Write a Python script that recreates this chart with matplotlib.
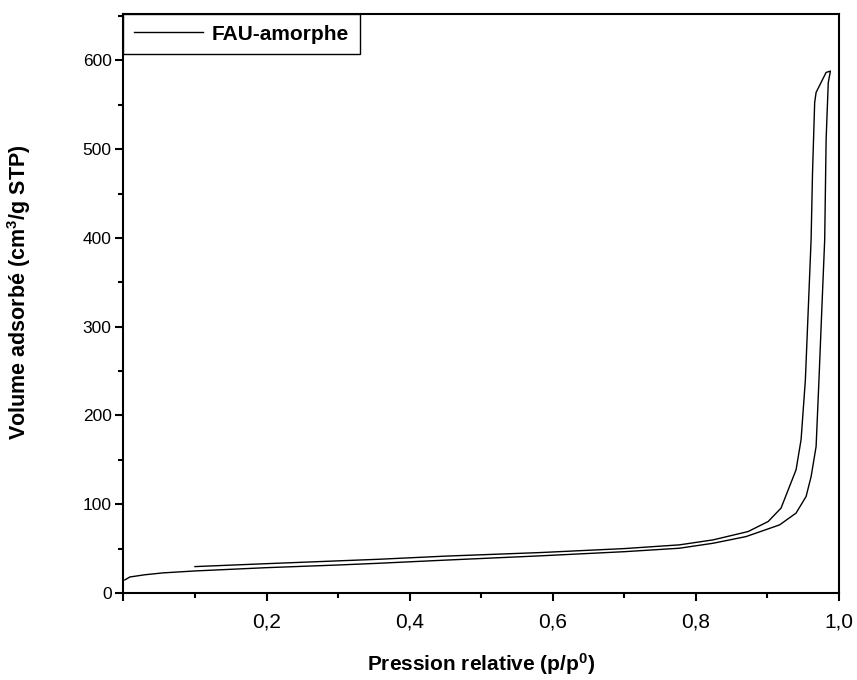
import numpy as np
import matplotlib
matplotlib.use("Agg")
import matplotlib.pyplot as plt
from matplotlib.ticker import MultipleLocator, FuncFormatter

plt.rcParams.update({
    "font.family": ["Liberation Sans", "DejaVu Sans"],
    "mathtext.fontset": "custom",
    "mathtext.rm": "Liberation Sans",
    "mathtext.bf": "Liberation Sans:bold",
    "mathtext.default": "bf",
})

# adsorption branch
p_ads = [0.002, 0.009, 0.03, 0.055, 0.1, 0.2, 0.3, 0.358, 0.45, 0.582, 0.7,
         0.777, 0.824, 0.87, 0.917, 0.94, 0.954, 0.961, 0.968, 0.972, 0.976,
         0.980, 0.982, 0.985, 0.988]
v_ads = [14.7, 18, 20.5, 22.6, 24.8, 28.5, 31.5, 33.5, 37, 41.8, 46.5,
         50.4, 56, 63.5, 76.7, 90, 108.7, 131, 165, 240, 320,
         398, 511, 575, 588]

# desorption branch
p_des = [0.988, 0.982, 0.968, 0.966, 0.963, 0.961, 0.953, 0.947, 0.940,
         0.919, 0.901, 0.873, 0.824, 0.777, 0.7, 0.582, 0.45, 0.358, 0.2, 0.1]
v_des = [588, 586.5, 564, 552.7, 473.7, 398, 240, 172.7, 138.8,
         95.6, 80.5, 69.2, 59.8, 54.2, 50, 45.5, 41.5, 38, 33, 29.7]

label = "FAU-amorphe"

fig = plt.figure(figsize=(8.57, 6.8), dpi=100)
ax = fig.add_axes([0.144, 0.128, 0.835, 0.851])

ax.plot(p_ads + p_des, v_ads + v_des, color="black", lw=1.0, label=label)

ax.set_xlim(0, 1.0)
ax.set_ylim(0, 652)
ax.xaxis.set_major_locator(MultipleLocator(0.2))
ax.xaxis.set_minor_locator(MultipleLocator(0.1))
ax.yaxis.set_major_locator(MultipleLocator(100))
ax.yaxis.set_minor_locator(MultipleLocator(50))
ax.xaxis.set_major_formatter(FuncFormatter(
    lambda v, pos: "" if abs(v) < 1e-9 else f"{v:.1f}".replace(".", ",")))
ax.tick_params(which="major", direction="out", length=6, width=1.5,
               top=False, right=False)
ax.tick_params(which="minor", direction="out", length=3.5, width=1.5,
               top=False, right=False)
ax.tick_params(axis="x", which="major", labelsize=15, pad=8)
ax.tick_params(axis="y", which="major", labelsize=12.5, pad=2.5)
for s in ax.spines.values():
    s.set_linewidth(1.5)

ax.set_xlabel(r"Pression relative (p/p$^0$)", fontsize=15, fontweight="bold")
ax.set_ylabel(r"Volume adsorbé (cm$^3$/g STP)", fontsize=15.5,
              fontweight="bold")
ax.xaxis.set_label_coords(0.5, -0.10)
ax.yaxis.set_label_coords(-0.126, 0.52)

leg = ax.legend(loc="upper left", bbox_to_anchor=(0, 1), borderaxespad=0,
                fancybox=False, edgecolor="black", framealpha=1,
                prop={"weight": "bold", "size": 15}, handlelength=3.3,
                borderpad=0.5, handletextpad=0.45)
leg.get_frame().set_linewidth(1.0)

fig.savefig("out.png", dpi=100, facecolor="white")
